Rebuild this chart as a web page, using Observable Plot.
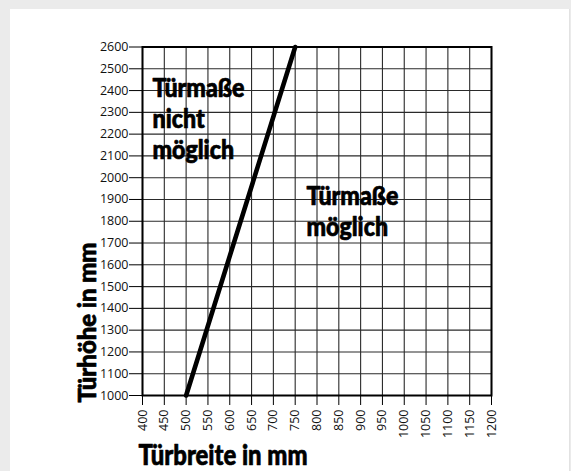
<!DOCTYPE html>
<html>
<head>
<meta charset="utf-8">
<script src="https://cdn.jsdelivr.net/npm/d3@7"></script>
<script src="https://cdn.jsdelivr.net/npm/@observablehq/plot@0.6"></script>
<style>
  html, body { margin: 0; padding: 0; background: #ebebeb; width: 571px; height: 471px; overflow: hidden; }
  #panel { position: absolute; left: 10px; top: 9px; width: 559px; height: 470px; background: #fff; border-right: 1px solid #e2e2e2; }
  #panel svg { position: absolute; left: 0; top: 0; }
</style>
</head>
<body>
<div id="panel"></div>
<script>
// Tick values
const xTicks = [400, 450, 500, 550, 600, 650, 700, 750, 800, 850, 900, 950, 1000, 1050, 1100, 1150, 1200];
const yTicks = [1000, 1100, 1200, 1300, 1400, 1500, 1600, 1700, 1800, 1900, 2000, 2100, 2200, 2300, 2400, 2500, 2600];
// Boundary line: door width (mm) vs door height (mm)
const boundaryWidth = [500, 750];
const boundaryHeight = [1000, 2600];
// Texts
const regionNotPossible = "Türmaße\nnicht\nmöglich";
const regionPossible = "Türmaße\nmöglich";
const xLabel = "Türbreite in mm";
const yLabel = "Türhöhe in mm";

const boundary = boundaryWidth.map((w, i) => ({w, h: boundaryHeight[i]}));
const boldFont = "Lato, 'Open Sans', sans-serif";
const fmt = d => String(d);
const heavy = {fontWeight: 900, fontFamily: boldFont, fill: "#000", stroke: "#000", strokeWidth: 0.7};

const chart = Plot.plot({
  width: 559,
  height: 462,
  marginLeft: 132,
  marginRight: 78,
  marginTop: 37.5,
  marginBottom: 76,
  style: {fontFamily: "'Open Sans', sans-serif", background: "transparent", color: "#111"},
  x: {domain: [400, 1200]},
  y: {domain: [1000, 2600]},
  marks: [
    Plot.gridX(xTicks, {stroke: "#2a2a2a", strokeOpacity: 1, strokeWidth: 1.1}),
    Plot.gridY(yTicks, {stroke: "#2a2a2a", strokeOpacity: 1, strokeWidth: 1.1}),
    Plot.frame({stroke: "#000", strokeWidth: 2}),
    Plot.axisX(xTicks, {tickRotate: -90, tickSize: 10, tickPadding: 4, fontSize: 12.5, label: null, stroke: "#000", tickFormat: fmt}),
    Plot.axisY(yTicks, {tickSize: 13, tickPadding: 1, fontSize: 12.5, label: null, stroke: "#000", tickFormat: fmt}),
    Plot.line(boundary, {x: "w", y: "h", stroke: "#000", strokeWidth: 4.6}),
    Plot.text([regionNotPossible], {...heavy, text: d => d, frameAnchor: "top-left", textAnchor: "start", lineAnchor: "top",
      dx: 10, dy: 27.5, fontSize: 26, lineHeight: 1.2, className: "cond-a"}),
    Plot.text([regionPossible], {...heavy, text: d => d, frameAnchor: "top-left", textAnchor: "start", lineAnchor: "top",
      dx: 164, dy: 135.5, fontSize: 26, lineHeight: 1.2, className: "cond-b"}),
    Plot.text([xLabel], {...heavy, text: d => d, frameAnchor: "bottom-left", textAnchor: "start", lineAnchor: "bottom",
      dx: -4, dy: 69, fontSize: 29, className: "cond-x"}),
    Plot.text([yLabel], {...heavy, text: d => d, frameAnchor: "bottom-left", textAnchor: "start", lineAnchor: "bottom", rotate: -90,
      dx: -47, dy: 7, fontSize: 25, className: "cond-y"})
  ]
});
document.getElementById("panel").appendChild(chart);

// Emulate the condensed typeface: compress glyphs horizontally
function condenseBy(cls, k) {
  chart.querySelectorAll(`g.${cls} text`).forEach(t => {
    const spans = t.querySelectorAll("tspan");
    const parts = spans.length ? spans : [t];
    parts.forEach(p => {
      const len = p.getComputedTextLength();
      p.setAttribute("textLength", (len * k).toFixed(2));
      p.setAttribute("lengthAdjust", "spacingAndGlyphs");
    });
  });
}
function widthOfFirst(cls) {
  const t = chart.querySelector(`g.${cls} text`);
  const s = t.querySelector("tspan") || t;
  return s.getComputedTextLength();
}
const kAnn = 92 / widthOfFirst("cond-a");
condenseBy("cond-a", kAnn);
condenseBy("cond-b", kAnn);
condenseBy("cond-x", 169 / widthOfFirst("cond-x"));
condenseBy("cond-y", 160 / widthOfFirst("cond-y"));
</script>
</body>
</html>
